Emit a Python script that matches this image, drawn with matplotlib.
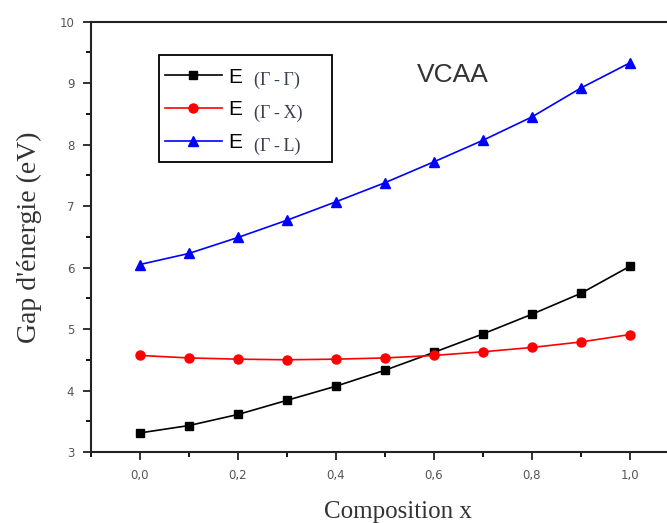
import matplotlib.pyplot as plt
from matplotlib.patches import Rectangle
from matplotlib.ticker import MultipleLocator, FuncFormatter

x = [0.0, 0.1, 0.2, 0.3, 0.4, 0.5, 0.6, 0.7, 0.8, 0.9, 1.0]
gap_gg = [3.31, 3.43, 3.61, 3.84, 4.07, 4.33, 4.62, 4.92, 5.24, 5.58, 6.02]
gap_gx = [4.57, 4.53, 4.51, 4.50, 4.51, 4.53, 4.57, 4.63, 4.70, 4.79, 4.91]
gap_gl = [6.05, 6.23, 6.49, 6.77, 7.07, 7.38, 7.72, 8.07, 8.45, 8.92, 9.33]
labels = ["(Γ\u2009-\u2009Γ)", "(Γ\u2009-\u2009X)", "(Γ\u2009-\u2009L)"]

fig = plt.figure(figsize=(6.67, 5.23), dpi=100)
ax = fig.add_axes([0.1364, 0.1358, 0.8636, 0.8227])

h1, = ax.plot(x, gap_gg, color='black', marker='s', markersize=6, linewidth=1.2, label='E')
h2, = ax.plot(x, gap_gx, color='red', marker='o', markersize=6.5, linewidth=1.2, label='E')
h3, = ax.plot(x, gap_gl, color='blue', marker='^', markersize=7, linewidth=1.2, label='E')

ax.set_xlim(-0.1, 1.076)
ax.set_ylim(3, 10)
ax.spines['right'].set_visible(False)
for s in ['left', 'top', 'bottom']:
    ax.spines[s].set_linewidth(1.5)
    ax.spines[s].set_color('#222222')

ax.xaxis.set_major_locator(MultipleLocator(0.2))
ax.xaxis.set_minor_locator(MultipleLocator(0.1))
ax.yaxis.set_major_locator(MultipleLocator(1))
ax.yaxis.set_minor_locator(MultipleLocator(0.5))
ax.xaxis.set_major_formatter(FuncFormatter(lambda v, p: f"{v:.1f}".replace('.', ',')))
ax.tick_params(which='major', direction='out', length=6, width=1.3, pad=6,
               labelsize=8.5, colors='#222222')
ax.tick_params(which='minor', direction='out', length=3.5, width=1.3)
ax.tick_params(axis='both', labelcolor='#555555')

ax.set_xlabel('Composition x', family='Liberation Serif', fontsize=18, color='#333333')
ax.set_ylabel("Gap d'énergie (eV)", family='Liberation Serif', fontsize=20, color='#333333')
ax.xaxis.set_label_coords(0.533, -0.115)
ax.yaxis.set_label_coords(-0.085, 0.5)

# legend box (drawn as a rectangle) with frameless legend inside
ax.add_patch(Rectangle((0.118, 0.674), 0.30, 0.249, transform=ax.transAxes,
                       facecolor='white', edgecolor='black', linewidth=1.3, zorder=4))
leg = ax.legend(handles=[h1, h2, h3], loc='upper left', bbox_to_anchor=(0.128, 0.893),
                prop={'family': 'Liberation Sans', 'size': 15}, frameon=False,
                handlelength=2.75, labelspacing=0.66, borderpad=0,
                handletextpad=0.3, borderaxespad=0)
leg.set_zorder(5)

fig.canvas.draw()
renderer = fig.canvas.get_renderer()
for txt, lab in zip(leg.get_texts(), labels):
    bb = txt.get_window_extent(renderer)
    fig.text((bb.x1 + 12) / fig.bbox.width, (bb.y0 + bb.y1) / 2 / fig.bbox.height - 0.006, lab,
             family='Liberation Serif', fontsize=13, color='#3a4050', va='center', ha='left',
             zorder=6)

ax.text(0.565, 9.13, 'VCAA', family='Liberation Sans', fontsize=19, color='#333333', va='center')

fig.savefig('out.png', dpi=100)
